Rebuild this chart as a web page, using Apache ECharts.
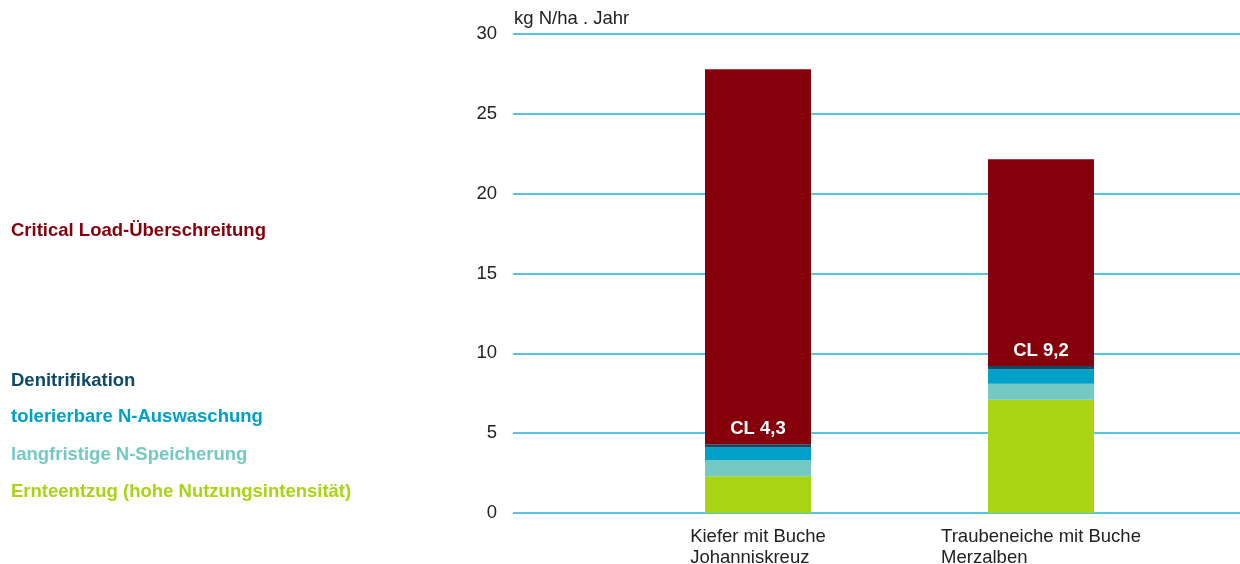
<!DOCTYPE html>
<html>
<head>
<meta charset="utf-8">
<script src="https://cdn.jsdelivr.net/npm/echarts@6/dist/echarts.min.js"></script>
<style>html,body{margin:0;padding:0;background:#fff}#c{width:1240px;height:564px}</style>
</head>
<body>
<div id="c"></div>
<script>
const categories = ['Kiefer mit Buche\nJohanniskreuz', 'Traubeneiche mit Buche\nMerzalben'];
const seriesNames = ['Ernteentzug (hohe Nutzungsintensität)', 'langfristige N-Speicherung', 'tolerierbare N-Auswaschung', 'Denitrifikation', 'Critical Load-Überschreitung'];
const ernteentzug = [2.3, 7.1];
const speicherung = [1.0, 1.0];
const auswaschung = [0.8, 0.9];
const denitrifikation = [0.2, 0.2];
const ueberschreitung = [23.5, 12.95];
const clLabels = ['CL 4,3', 'CL 9,2'];
const yTicks = [0, 5, 10, 15, 20, 25, 30];
const unitLabel = 'kg N/ha . Jahr';

const colors = ['#A8D414', '#74C9C3', '#00A0C8', '#0B4A6A', '#85000B'];
const values = [ernteentzug, speicherung, auswaschung, denitrifikation, ueberschreitung];
const legendY = [490, 453, 415, 379, 229];
const gridColor = '#1CB2DB';
const font = 'Liberation Sans, Arial, Helvetica, sans-serif';
const fs = 18.5;

const chart = echarts.init(document.getElementById('c'));
const series = seriesNames.map((n, i) => ({
  name: n, type: 'bar', stack: 'a', xAxisIndex: 1, yAxisIndex: 1,
  barWidth: 106, data: values[i], itemStyle: {color: colors[i]},
  label: i === 4 ? {
    show: true, position: 'insideBottom', distance: 6,
    formatter: p => clLabels[p.dataIndex],
    color: '#fff', fontWeight: 'bold', fontSize: 18.5, fontFamily: font
  } : {show: false}
}));

chart.setOption({
  animation: false,
  grid: [
    {left: 513, right: 0, top: 34, bottom: 51, containLabel: false, outerBoundsMode: 'none'},
    {left: 616.5, right: 57.5, top: 34, bottom: 51, containLabel: false, outerBoundsMode: 'none'}
  ],
  xAxis: [
    {gridIndex: 0, type: 'value', show: false, min: 0, max: 1},
    {gridIndex: 1, type: 'category', data: categories,
     axisLine: {show: false}, axisTick: {show: false},
     axisLabel: {
       interval: 0, hideOverlap: false,
       margin: 13, fontSize: fs, color: '#222', fontFamily: font,
       formatter: v => v.split('\n').map(l => '{a|' + l + '}').join('\n'),
       rich: {a: {align: 'left', fontSize: fs, color: '#222', fontFamily: font, lineHeight: 21}}
     }}
  ],
  yAxis: [
    {gridIndex: 0, type: 'value', min: 0, max: 30, interval: 5,
     axisLine: {show: false}, axisTick: {show: false},
     axisLabel: {margin: 16, fontSize: fs, color: '#222', fontFamily: font,
       formatter: v => yTicks.includes(v) ? String(v) : ''},
     splitLine: {lineStyle: {color: gridColor, width: 1.5}}},
    {gridIndex: 1, type: 'value', min: 0, max: 30, interval: 5, show: false, splitLine: {show: false}}
  ],
  graphic: [
    {type: 'text', left: 514, top: 9, style: {text: unitLabel, font: fs + 'px ' + font, fill: '#222'}}
  ].concat(seriesNames.map((n, i) => ({
    type: 'text', left: 11, top: legendY[i] - 8,
    style: {text: n, font: 'bold ' + fs + 'px ' + font, fill: colors[i]}
  }))),
  series: series
});
</script>
</body>
</html>
